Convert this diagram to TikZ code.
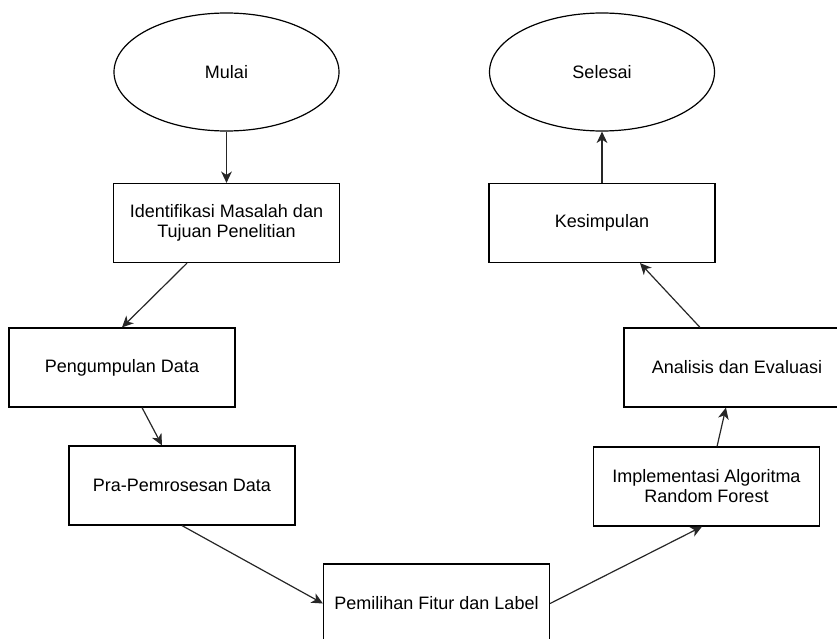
\documentclass[tikz,border=0pt]{standalone}
\usepackage{fontspec}
\setmainfont{Liberation Sans}
\usetikzlibrary{arrows.meta,shapes.geometric}
\begin{document}
\begin{tikzpicture}[x=0.75pt, y=-0.75pt,
            font=\fontsize{13.5}{15}\selectfont,
            terminal/.style={draw, ellipse, line width=0.9pt, minimum width=168.75pt, minimum height=88.5pt, inner sep=0pt},
            proses/.style={draw, rectangle, line width=0.9pt, minimum width=169.5pt, minimum height=59.25pt, inner sep=0pt, align=center},
            panah/.style={-{Stealth[length=8.5pt, width=8pt, inset=2.5pt]}, line width=0.9pt, black!85}]
            \useasboundingbox (0,0) rectangle (837,638);
            \clip (0,0) rectangle (837,638);
            \node[terminal] (mulai) at (226.5,72) {Mulai};
            \node[terminal] (selesai) at (602,72) {Selesai};
            \node[proses] (identifikasi) at (226.5,223) {Identifikasi Masalah dan\\Tujuan Penelitian};
            \node[proses] (kesimpulan) at (602,223) {Kesimpulan};
            \node[proses] (pengumpulan) at (122,367.5) {Pengumpulan Data};
            \node[proses] (analisis) at (737,367.5) {Analisis dan Evaluasi};
            \node[proses] (praproses) at (182,485.5) {Pra-Pemrosesan Data};
            \node[proses] (implementasi) at (706.5,486.5) {Implementasi Algoritma\\Random Forest};
            \node[proses] (pemilihan) at (436.5,603.5) {Pemilihan Fitur dan Label};
            \draw[panah] (mulai.south) -- (identifikasi.north);
            \draw[panah] ([xshift=-29.6pt]identifikasi.south) -- (pengumpulan.north);
            \draw[panah] ([xshift=15pt]pengumpulan.south) -- ([xshift=-15pt]praproses.north);
            \draw[panah] (praproses.south) -- (pemilihan.west);
            \draw[panah] (pemilihan.east) -- ([xshift=-3.4pt]implementasi.south);
            \draw[panah] ([xshift=7.9pt]implementasi.north) -- ([xshift=-8.3pt]analisis.south);
            \draw[panah] ([xshift=-27.75pt]analisis.north) -- ([xshift=28.5pt]kesimpulan.south);
            \draw[panah] (kesimpulan.north) -- (selesai.south);
\end{tikzpicture}
\end{document}
